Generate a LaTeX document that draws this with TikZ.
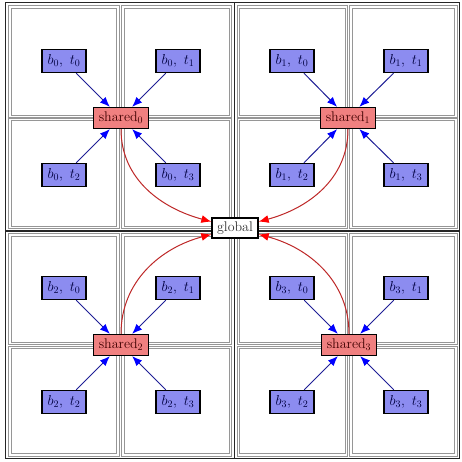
\documentclass[tikz,border=0pt]{standalone}
\usetikzlibrary{arrows.meta}
\definecolor{bfill}{RGB}{140,140,240}
\definecolor{sfill}{RGB}{240,128,128}
\definecolor{cellgray}{RGB}{150,150,150}
\definecolor{bedge}{RGB}{30,30,150}
\definecolor{redge}{RGB}{190,40,40}
\begin{document}
\begin{tikzpicture}[x=1pt,y=1pt,
  every node/.style={font=\fontsize{14}{16}\selectfont, inner sep=1pt, line width=1.3pt, draw=black},
  bnode/.style={fill=bfill, text=blue!25!black, minimum width=44pt, minimum height=23pt},
  snode/.style={fill=sfill, text=red!25!black, minimum width=55pt, minimum height=21pt},
  gnode/.style={fill=white, text=black!80, minimum width=46pt, minimum height=20pt},
  cellbox/.style={draw=cellgray, line width=1.2pt, double=white, double distance=1.1pt},
  frame/.style={draw=black!85, line width=1.8pt},
  barrow/.style={draw=bedge, line width=1pt, -{Latex[length=10pt,width=8pt,color=blue]}},
  rarrow/.style={draw=redge, line width=1pt, -{Latex[length=10pt,width=8pt,color=red]}}
]
\useasboundingbox[fill=white] (0,0) rectangle (462,-462);
% outer frame and quadrant separators
\draw[frame] (5.5,-2.5) rectangle (459.5,-458.5);
\draw[frame] (234.5,-2.5) -- (234.5,-458.5);
\draw[frame] (5.5,-231) -- (459.5,-231);
% cells
\foreach \xa/\xb in {10/118, 123/230.5, 238.5/346.5, 351/456}{
  \foreach \ya/\yb in {-7/-116.5, -119.5/-227.5, -235/-343.5, -347.5/-455}{
    \draw[cellbox] (\xa,\ya) rectangle (\xb,\yb);
  }
}
% nodes
\node[gnode] (g) at (235,-228) {global};
\node[snode] (s0) at (121,-118) {shared$_0$};
\node[snode] (s1) at (348,-118) {shared$_1$};
\node[snode] (s2) at (121,-345) {shared$_2$};
\node[snode] (s3) at (349,-345) {shared$_3$};
\node[bnode] (b0t0) at (64,-61) {$b_0,\ t_0$};
\node[bnode] (b0t1) at (178,-61) {$b_0,\ t_1$};
\node[bnode] (b0t2) at (64,-175) {$b_0,\ t_2$};
\node[bnode] (b0t3) at (178,-175) {$b_0,\ t_3$};
\node[bnode] (b1t0) at (292,-61) {$b_1,\ t_0$};
\node[bnode] (b1t1) at (406,-61) {$b_1,\ t_1$};
\node[bnode] (b1t2) at (292,-175) {$b_1,\ t_2$};
\node[bnode] (b1t3) at (406,-175) {$b_1,\ t_3$};
\node[bnode] (b2t0) at (64,-288) {$b_2,\ t_0$};
\node[bnode] (b2t1) at (178,-288) {$b_2,\ t_1$};
\node[bnode] (b2t2) at (64,-402) {$b_2,\ t_2$};
\node[bnode] (b2t3) at (178,-402) {$b_2,\ t_3$};
\node[bnode] (b3t0) at (292,-288) {$b_3,\ t_0$};
\node[bnode] (b3t1) at (406,-288) {$b_3,\ t_1$};
\node[bnode] (b3t2) at (292,-402) {$b_3,\ t_2$};
\node[bnode] (b3t3) at (406,-402) {$b_3,\ t_3$};
% blue edges
\foreach \q in {0,1,2,3}{
  \foreach \t in {0,1,2,3}{
    \draw[barrow] (b\q t\t) -- (s\q);
  }
}
% red edges
\draw[rarrow] (s0) to[out=-90,in=165] (g);
\draw[rarrow] (s1) to[out=-90,in=15] (g);
\draw[rarrow] (s2) to[out=90,in=195] (g);
\draw[rarrow] (s3) to[out=90,in=-15] (g);
\end{tikzpicture}
\end{document}
